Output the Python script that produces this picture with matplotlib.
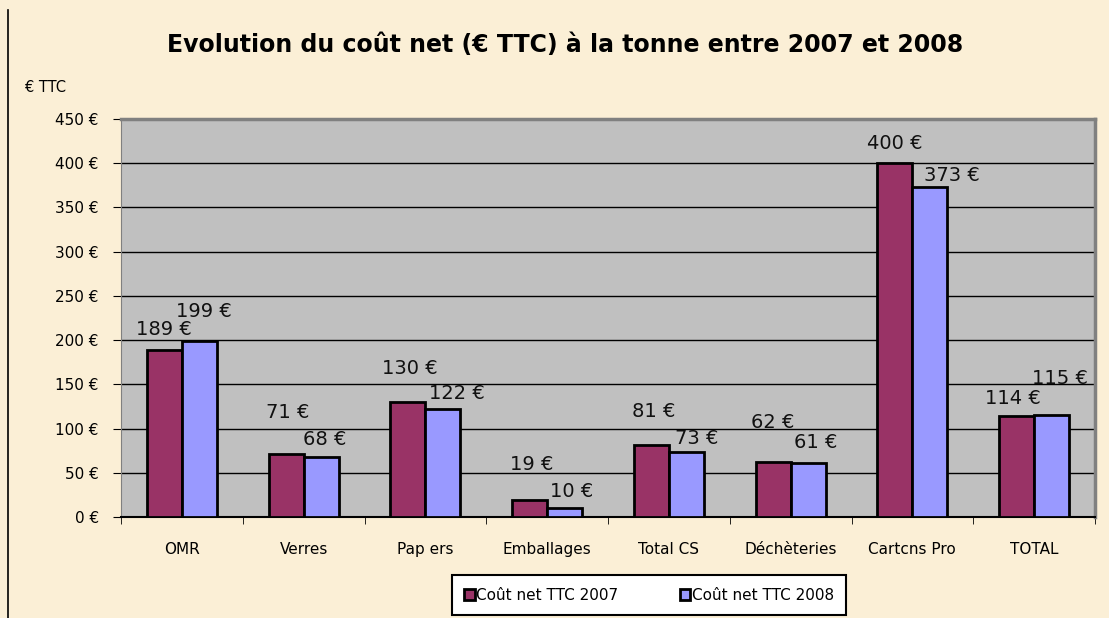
import matplotlib.pyplot as plt
import numpy as np

# data
categories = ["OMR", "Verres", "Pap ers", "Emballages", "Total CS", "Déchèteries", "Cartcns Pro", "TOTAL"]
cost_2007 = [189, 71, 130, 19, 81, 62, 400, 114]
cost_2008 = [199, 68, 122, 10, 73, 61, 373, 115]
series_names = ["Coût net TTC 2007", "Coût net TTC 2008"]
yticks = [0, 50, 100, 150, 200, 250, 300, 350, 400, 450]

# label offsets in pixels (dx, dy) from top centre of each bar
offsets_2007 = [(0, 20), (2, 42), (2, 34), (2, 36), (2, 34), (0, 40), (0, 20), (-4, 18)]
offsets_2008 = [(4, 29), (4, 17), (14, 16), (7, 17), (10, 14), (8, 21), (22, 12), (8, 37)]

bg = "#fbefd6"
col_2007 = "#993366"
col_2008 = "#9999ff"

plt.rcParams['font.family'] = ['DejaVu Sans']

fig = plt.figure(figsize=(11.09, 6.18), dpi=100)
fig.patch.set_facecolor(bg)
ax = fig.add_axes([121/1109, 1 - 517/618, (1095-121)/1109, (517-119)/618])
ax.set_facecolor("#c0c0c0")

x = np.arange(len(categories))
w = 0.2875
b1 = ax.bar(x - w/2, cost_2007, w, color=col_2007, edgecolor="black", linewidth=2, label=series_names[0], zorder=3)
b2 = ax.bar(x + w/2, cost_2008, w, color=col_2008, edgecolor="black", linewidth=2, label=series_names[1], zorder=3)

for bars, vals, offs in [(b1, cost_2007, offsets_2007), (b2, cost_2008, offsets_2008)]:
    for bar, v, (dx, dy) in zip(bars, vals, offs):
        ax.annotate(f"{v} €", (bar.get_x() + bar.get_width()/2, v),
                    xytext=(dx, dy), textcoords='offset pixels',
                    ha='center', va='center', fontsize=14, color="#111111", zorder=4)

ax.set_xlim(-0.5, len(categories) - 0.5)
ax.set_ylim(0, 450)
ax.set_yticks(yticks)
ax.set_yticklabels([f"{t} €" for t in yticks], fontsize=11)
ax.yaxis.grid(True, color="black", linewidth=1, zorder=1)
ax.set_xticks(x)
ax.set_xticklabels(categories, fontsize=11)
ax.set_xticks(np.arange(len(categories) + 1) - 0.5, minor=True)
ax.tick_params(axis='x', which='major', length=0, pad=18)
ax.tick_params(axis='x', which='minor', length=5, direction='out')
ax.tick_params(axis='y', length=6, direction='out', pad=10)

for side in ['top', 'right']:
    ax.spines[side].set_color("#808080")
    ax.spines[side].set_linewidth(2.5)
ax.spines['left'].set_color("#808080")
ax.spines['bottom'].set_color("black")
ax.spines['bottom'].set_linewidth(1.5)

fig.text(565/1109, 1 - 45/618, "Evolution du coût net (€ TTC) à la tonne entre 2007 et 2008",
         ha='center', va='center', fontsize=17, fontweight='bold')
fig.text(25/1109, 1 - 88/618, "€ TTC", ha='left', va='center', fontsize=10.5)

# left border line of the chart frame
fig.add_artist(plt.Line2D([8/1109, 8/1109], [0, 1 - 10/618], color="black", linewidth=1.2))

leg = fig.legend(loc='center', bbox_to_anchor=(649/1109, 1 - 595/618), ncol=2, fontsize=11,
                 frameon=True, fancybox=False, edgecolor="black", framealpha=1,
                 handlelength=0.7, handleheight=0.7, handletextpad=0.1, columnspacing=4,
                 borderpad=0.8, borderaxespad=0)
leg.get_frame().set_linewidth(1.5)

plt.savefig("out.png", dpi=100, facecolor=bg)
